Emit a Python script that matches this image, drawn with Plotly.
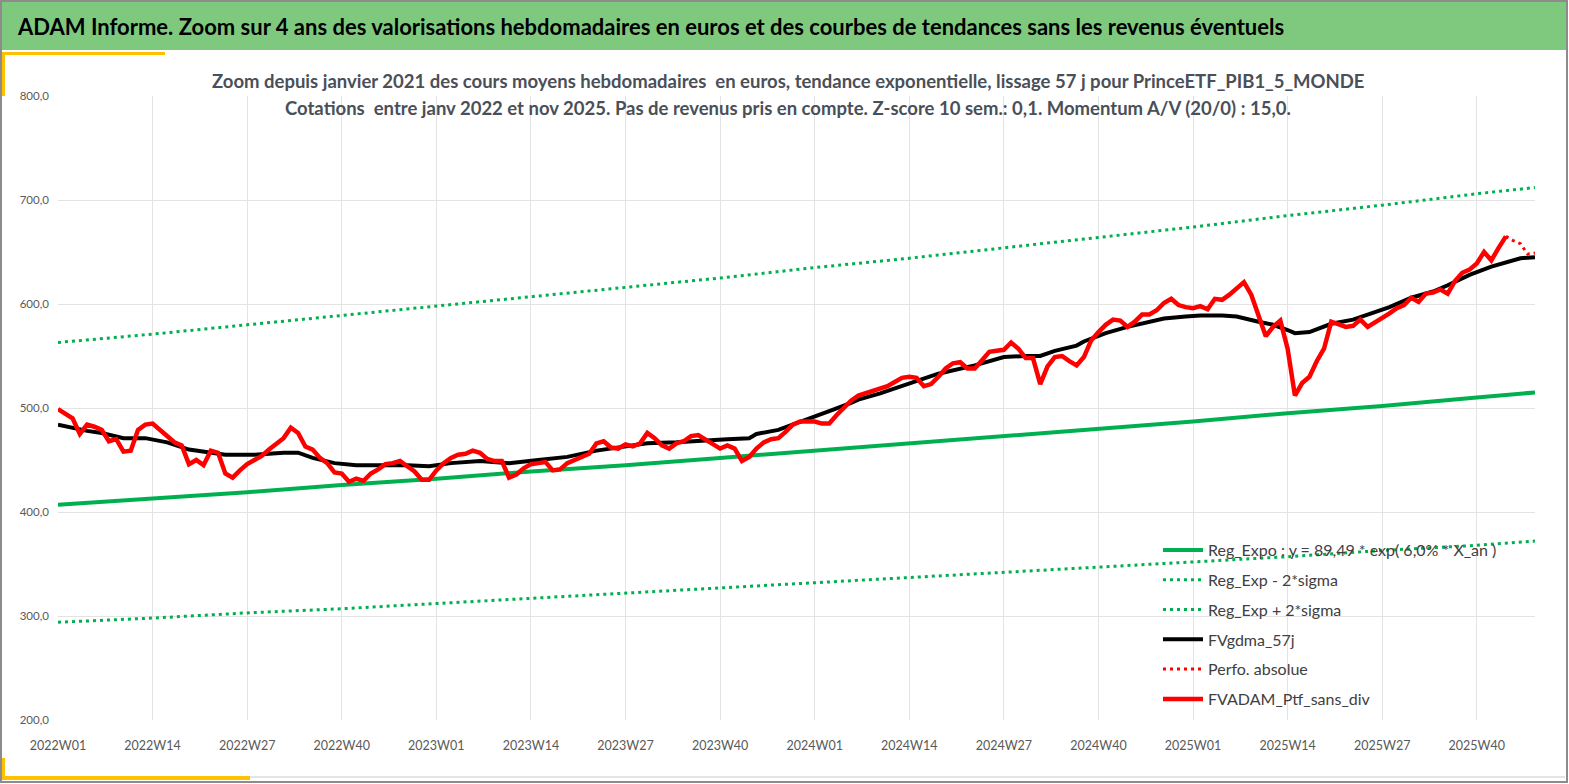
import plotly.graph_objects as go

# ---------------- DATA ----------------
weeks = [f"{y}W{w:02d}" for y in (2022, 2023, 2024, 2025) for w in range(1, 53)][:204]
tick_weeks = weeks[0:196:13]

# FVADAM_Ptf_sans_div : weekly values 2022W01 .. 2025W44
ptf_values = [
    499, 495, 490, 475, 484, 482, 479, 468, 470, 458,
    459, 479, 484, 485, 479, 474, 467, 464, 446, 450,
    445, 459, 457, 437, 433, 440, 446, 450, 454, 460,
    466, 471, 481, 476, 463, 460, 452, 447, 438, 437,
    429, 432, 430, 437, 441, 446, 447, 449, 444, 439,
    431, 431, 440, 447, 452, 455, 456, 459, 457, 451,
    449, 449, 433, 436, 442, 446, 447, 448, 440, 441,
    447, 450, 453, 456, 466, 468, 462, 461, 465, 463,
    466, 476, 471, 464, 461, 466, 468, 473, 474, 470,
    466, 461, 464, 461, 449, 453, 461, 467, 470, 471,
    477, 484, 487, 487, 487, 485, 485, 493, 500, 507,
    512, 514, 516, 518, 521, 525, 529, 530, 529, 521,
    523, 530, 538, 543, 544, 538, 538, 546, 554, 555,
    556, 563, 557, 548, 548, 523, 540, 549, 550, 545,
    541, 549, 565, 573, 580, 585, 584, 578, 583, 590,
    590, 594, 601, 605, 599, 597, 596, 598, 595, 605,
    604, 609, 615, 621, 609, 589, 569, 578, 584, 557,
    512, 524, 530, 545, 557, 583, 580, 578, 579, 585,
    578, 582, 586, 591, 596, 599, 606, 602, 610, 611,
    614, 610, 622, 630, 633, 639, 650, 642, 654, 665,
]

# Perfo. absolue (dotted continuation)
perfo_weeks = ["2025W44", "2025W45", "2025W46", "2025W47", "2025W48"]
perfo_values = [665, 661, 658, 648, 649]

# FVgdma_57j (smoothed), read at these weeks
gdma_weeks = [
    "2022W01", "2022W05", "2022W07", "2022W10", "2022W13", "2022W16", "2022W19",
    "2022W21", "2022W24", "2022W28", "2022W32", "2022W34", "2022W36", "2022W39",
    "2022W42", "2022W46", "2022W49", "2022W52", "2023W02", "2023W03", "2023W07",
    "2023W11", "2023W15", "2023W19", "2023W23", "2023W27", "2023W30", "2023W34",
    "2023W38", "2023W41", "2023W44", "2023W45", "2023W48", "2023W50", "2024W01",
    "2024W03", "2024W06", "2024W07", "2024W10", "2024W14", "2024W18", "2024W23",
    "2024W27", "2024W30", "2024W32", "2024W34", "2024W37", "2024W38", "2024W41",
    "2024W44", "2024W47", "2024W49", "2024W52", "2025W02", "2025W05", "2025W07",
    "2025W10", "2025W12", "2025W14", "2025W15", "2025W17", "2025W20", "2025W23",
    "2025W25", "2025W28", "2025W31", "2025W34", "2025W36", "2025W39", "2025W42",
    "2025W45", "2025W46", "2025W48",
]
gdma_values = [
    484, 478, 476, 471, 471, 467, 460,
    458, 455, 455, 457, 457, 452, 447,
    445, 445, 445, 444, 446, 447, 449,
    447, 450, 453, 459, 463, 466, 467,
    469, 470, 471, 475, 479, 484, 491,
    497, 505, 508, 514, 524, 533, 541,
    549, 550, 550, 555, 560, 564, 572,
    578, 583, 586, 588, 589, 589, 588,
    583, 580, 575, 572, 573, 581, 585,
    590, 597, 606, 612, 618, 628, 636,
    642, 644, 645,
]

# Exponential regression and +/- 2 sigma bands, read at these weeks
trend_weeks = [
    "2022W01", "2022W14", "2022W27", "2022W40", "2023W01", "2023W14", "2023W27",
    "2023W40", "2024W01", "2024W14", "2024W27", "2024W40", "2025W01", "2025W14",
    "2025W27", "2025W40", "2025W48",
]
reg_expo = [407, 413, 419, 426, 432, 439, 445, 452, 459, 466, 473, 480, 487, 495, 502, 510, 515]
reg_minus = [294, 298, 303, 307, 312, 317, 322, 327, 332, 337, 342, 347, 352, 357, 363, 368, 372]
reg_plus = [563, 571, 580, 589, 598, 607, 616, 625, 635, 644, 654, 664, 674, 685, 695, 706, 712]

series_names = [
    "Reg_Expo : y = 89,49 * exp( 6,0% * X_an )",
    "Reg_Exp - 2*sigma",
    "Reg_Exp + 2*sigma",
    "FVgdma_57j",
    "Perfo. absolue",
    "FVADAM_Ptf_sans_div",
]

title_text = ("ADAM Informe. Zoom sur 4 ans des valorisations hebdomadaires en euros "
              "et des courbes de tendances sans les revenus éventuels")
subtitle_1 = ("Zoom depuis janvier 2021 des cours moyens hebdomadaires  en euros, tendance "
              "exponentielle, lissage 57 j pour PrinceETF_PIB1_5_MONDE")
subtitle_2 = ("Cotations  entre janv 2022 et nov 2025. Pas de revenus pris en compte. "
              "Z-score 10 sem.: 0,1. Momentum A/V (20/0) : 15,0.")

# ---------------- LAYOUT GEOMETRY ----------------
W, H = 1569, 784
L, R, T, B = 58, 1535, 96, 720
FONT = "Lato, 'Open Sans', sans-serif"
GREEN = "#00B050"
GRAY_TXT = "#595959"


def px(X):
    return (X - L) / (R - L)


def py(Y):
    return (B - Y) / (B - T)


fig = go.Figure()
fig.add_trace(go.Scatter(x=trend_weeks, y=reg_expo, mode="lines", name=series_names[0],
                         line=dict(color=GREEN, width=4), legendgroup="a"))
fig.add_trace(go.Scatter(x=trend_weeks, y=reg_minus, mode="lines", name=series_names[1],
                         line=dict(color=GREEN, width=3, dash="3px,4px"), legendgroup="b"))
fig.add_trace(go.Scatter(x=trend_weeks, y=reg_plus, mode="lines", name=series_names[2],
                         line=dict(color=GREEN, width=3, dash="3px,4px"), legendgroup="c"))
fig.add_trace(go.Scatter(x=gdma_weeks, y=gdma_values, mode="lines", name=series_names[3],
                         line=dict(color="#000000", width=4), legendgroup="d"))
fig.add_trace(go.Scatter(x=perfo_weeks, y=perfo_values, mode="lines", name=series_names[4],
                         line=dict(color="#FF0000", width=3, dash="3px,4px"), legendgroup="e"))
fig.add_trace(go.Scatter(x=weeks[:len(ptf_values)], y=ptf_values, mode="lines", name=series_names[5],
                         line=dict(color="#FF0000", width=4.5), legendgroup="f"))

shapes = [
    # outer frame
    dict(type="rect", xref="paper", yref="paper", x0=px(1), x1=px(W - 2), y0=py(1), y1=py(H - 2),
         line=dict(color="#8C8C8C", width=2), fillcolor="rgba(0,0,0,0)", layer="below"),
    # title bar
    dict(type="rect", xref="paper", yref="paper", x0=px(2), x1=px(W - 3), y0=py(2), y1=py(50),
         line=dict(width=0), fillcolor="#7FC97F", layer="below"),
    # yellow accents
    dict(type="rect", xref="paper", yref="paper", x0=px(2), x1=px(165), y0=py(52), y1=py(55),
         line=dict(width=0), fillcolor="#FFC000", layer="below"),
    dict(type="rect", xref="paper", yref="paper", x0=px(2), x1=px(5), y0=py(52), y1=py(96),
         line=dict(width=0), fillcolor="#FFC000", layer="below"),
    dict(type="rect", xref="paper", yref="paper", x0=px(2), x1=px(250), y0=py(776), y1=py(780),
         line=dict(width=0), fillcolor="#FFC000", layer="below"),
    dict(type="rect", xref="paper", yref="paper", x0=px(2), x1=px(5), y0=py(758), y1=py(780),
         line=dict(width=0), fillcolor="#FFC000", layer="below"),
    dict(type="line", xref="paper", yref="paper", x0=px(250), x1=px(W - 4), y0=py(777), y1=py(777),
         line=dict(color="#E4E4E4", width=2), layer="below"),
]

annotations = [
    dict(text=f"<b>{title_text}</b>", xref="paper", yref="paper", x=px(15), y=py(27),
         xanchor="left", yanchor="middle", showarrow=False,
         font=dict(family=FONT, size=22, color="#000000")),
    dict(text=f"<b>{subtitle_1}</b>", xref="paper", yref="paper", x=px(788), y=py(81),
         xanchor="center", yanchor="middle", showarrow=False,
         font=dict(family=FONT, size=18.5, color="#4A4F58")),
    dict(text=f"<b>{subtitle_2}</b>", xref="paper", yref="paper", x=px(788), y=py(108),
         xanchor="center", yanchor="middle", showarrow=False,
         font=dict(family=FONT, size=18.5, color="#4A4F58")),
]

fig.update_layout(
    width=W, height=H,
    margin=dict(l=L, r=W - R, t=T, b=H - B, pad=0),
    paper_bgcolor="white", plot_bgcolor="white",
    separators=", ",
    font=dict(family=FONT, color=GRAY_TXT),
    shapes=shapes, annotations=annotations,
    showlegend=True,
    legend=dict(x=px(1158), y=py(533), xanchor="left", yanchor="top",
                bgcolor="rgba(0,0,0,0)", borderwidth=0,
                font=dict(family=FONT, size=16, color="#404040"),
                traceorder="grouped", tracegroupgap=6, itemwidth=40),
    xaxis=dict(type="category", categoryorder="array", categoryarray=weeks,
               range=[0, len(weeks) - 1], tickmode="array", tickvals=tick_weeks,
               ticktext=tick_weeks, showgrid=True, gridcolor="#E3E3E3", gridwidth=1,
               showline=False, zeroline=False, ticks="", ticklabelstandoff=16,
               tickfont=dict(family=FONT, size=12.5, color=GRAY_TXT)),
    yaxis=dict(range=[200, 800], dtick=100, tick0=200, tickformat=".1f",
               showgrid=True, gridcolor="#E3E3E3", gridwidth=1, zeroline=False,
               showline=False, ticks="", ticklabelstandoff=8,
               tickfont=dict(family=FONT, size=11.5, color=GRAY_TXT)),
)

fig.write_html("out.html", config={"displayModeBar": False},
               post_script="document.body.style.margin='0';document.body.style.overflow='hidden';")
